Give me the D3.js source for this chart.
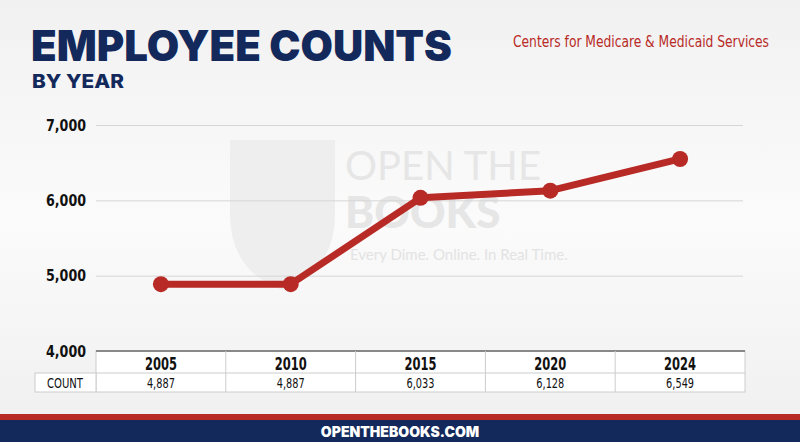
<!DOCTYPE html>
<html><head><meta charset="utf-8">
<script src="https://cdn.jsdelivr.net/npm/d3@7"></script>
<style>body{margin:0}svg{display:block}</style></head>
<body><svg id="c" width="800" height="442"></svg>
<script>
const years = ["2005","2010","2015","2020","2024"];
const counts = [4887,4887,6033,6128,6549];
const yTicks = [4000,5000,6000,7000];

const svg = d3.select("#c");
const navy="#13295b", red="#b82a25", narrow="'Liberation Sans Narrow','DejaVu Sans Condensed',sans-serif";
const g0=svg.append("defs").append("linearGradient").attr("id","bg").attr("x1",0).attr("y1",0).attr("x2",0).attr("y2",1);
g0.append("stop").attr("offset",0).attr("stop-color","#f1f1f2");
g0.append("stop").attr("offset",0.5).attr("stop-color","#fbfbfb");
g0.append("stop").attr("offset",1).attr("stop-color","#efeff0");
svg.append("rect").attr("width",800).attr("height",442).attr("fill","url(#bg)");

// watermark
svg.append("path").attr("d","M230,140 L335,140 L335,215 Q335,270 282,290 Q230,270 230,215 Z").attr("fill","#eeeeee");
svg.append("text").attr("x",345).attr("y",180).attr("font-family","Lato,sans-serif").attr("font-size",40).attr("fill","#e6e6e6").text("OPEN THE");
svg.append("text").attr("x",345).attr("y",228).attr("font-family","Lato,sans-serif").attr("font-weight",900).attr("font-size",44).attr("fill","#e6e6e6").text("BOOKS");
svg.append("text").attr("x",350).attr("y",260).attr("font-family","Lato,sans-serif").attr("font-size",15).attr("fill","#e3e3e3").text("Every Dime. Online. In Real Time.");

// titles
svg.append("text").attr("x",31).attr("y",61).attr("font-family","Inter,'Open Sans',sans-serif").attr("font-weight",900).attr("font-size",42).attr("fill",navy).attr("textLength",421).attr("lengthAdjust","spacingAndGlyphs").text("EMPLOYEE COUNTS");
svg.append("text").attr("x",32).attr("y",88).attr("font-family","Inter,sans-serif").attr("font-weight",800).attr("font-size",19).attr("fill",navy).attr("textLength",92).attr("lengthAdjust","spacingAndGlyphs").text("BY YEAR");
svg.append("text").attr("x",769).attr("y",47).attr("text-anchor","end").attr("font-family",narrow).attr("font-size",16).attr("fill",red).attr("textLength",256).attr("lengthAdjust","spacingAndGlyphs").text("Centers for Medicare & Medicaid Services");

const x = d3.scaleBand().domain(years).range([96,745]);
const y = d3.scaleLinear().domain([4000,7000]).range([351,125]);

const ga = svg.append("g").attr("transform","translate(96,0)")
 .call(d3.axisLeft(y).tickValues(yTicks).tickSize(-647).tickFormat(d3.format(",")));
ga.select(".domain").remove();
ga.selectAll(".tick line").attr("stroke","#d6d6d6");
ga.selectAll(".tick text").attr("x",-10).attr("font-family",narrow).attr("font-weight",700).attr("font-size",16).attr("fill","#111").attr("textLength",40).attr("lengthAdjust","spacingAndGlyphs");

// table
const tb=svg.append("g");
tb.append("rect").attr("x",96).attr("y",351).attr("width",649).attr("height",41).attr("fill","#fff").attr("stroke","#ccc");
tb.append("rect").attr("x",35).attr("y",373).attr("width",61).attr("height",19).attr("fill","#fff").attr("stroke","#ccc");
tb.append("line").attr("x1",96).attr("x2",745).attr("y1",351).attr("y2",351).attr("stroke","#888").attr("stroke-width",2);
tb.append("line").attr("x1",96).attr("x2",745).attr("y1",373).attr("y2",373).attr("stroke","#ccc");
tb.selectAll(".v").data(years.slice(1)).join("line").attr("x1",d=>x(d)).attr("x2",d=>x(d)).attr("y1",351).attr("y2",392).attr("stroke","#ccc");
tb.selectAll(".h").data(years).join("text").attr("x",d=>x(d)+x.bandwidth()/2).attr("y",370).attr("text-anchor","middle").attr("font-family",narrow).attr("font-weight",700).attr("font-size",17).attr("fill","#111").attr("textLength",32).attr("lengthAdjust","spacingAndGlyphs").text(d=>d);
tb.selectAll(".n").data(counts).join("text").attr("x",(d,i)=>x(years[i])+x.bandwidth()/2).attr("y",388).attr("text-anchor","middle").attr("font-family",narrow).attr("font-size",14).attr("fill","#111").attr("textLength",28).attr("lengthAdjust","spacingAndGlyphs").text(d=>d3.format(",")(d));
tb.append("text").attr("x",65).attr("y",388).attr("text-anchor","middle").attr("font-family",narrow).attr("font-size",14).attr("fill","#111").attr("textLength",36).attr("lengthAdjust","spacingAndGlyphs").text("COUNT");

// line
const cx=(d,i)=>x(years[i])+x.bandwidth()/2;
svg.append("path").datum(counts).attr("fill","none").attr("stroke",red).attr("stroke-width",7).attr("stroke-linejoin","round")
 .attr("d",d3.line().x(cx).y(d=>y(d)));
svg.selectAll(".pt").data(counts).join("circle").attr("cx",cx).attr("cy",d=>y(d)).attr("r",8).attr("fill",red);

// footer
svg.append("rect").attr("x",0).attr("y",414).attr("width",800).attr("height",6).attr("fill",red);
svg.append("rect").attr("x",0).attr("y",420).attr("width",800).attr("height",22).attr("fill",navy);
svg.append("text").attr("x",400).attr("y",437).attr("text-anchor","middle").attr("font-family","Inter,sans-serif").attr("font-weight",900).attr("font-size",14).attr("fill","#fff").text("OPENTHEBOOKS.COM");
</script></body></html>
